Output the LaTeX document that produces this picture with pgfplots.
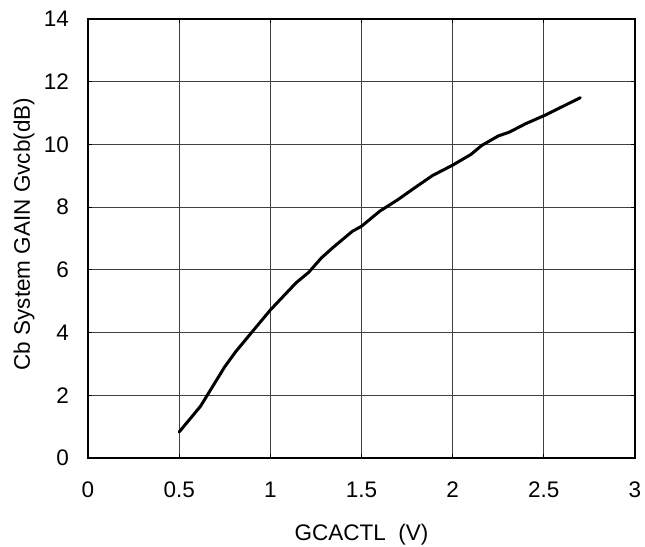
\documentclass[border=0pt]{standalone}
\usepackage{pgfplots}
\pgfplotsset{compat=1.18}
\usepackage{fontspec}
\setmainfont{Liberation Sans}
\newcommand{\chartfont}{\fontsize{22.5bp}{27bp}\selectfont}
\begin{document}
\begin{tikzpicture}[font=\chartfont]
  \path[use as bounding box] (-88bp,-89bp) rectangle (557bp,458bp);
  \begin{axis}[
      scale only axis,
      width=547bp, height=439bp,
      font=\chartfont,
      xmin=0, xmax=3, ymin=0, ymax=14,
      xtick={0,0.5,...,3}, ytick={0,2,...,14},
      /pgf/number format/assume math mode=true,
      tick label style={font=\chartfont},
      xticklabel style={inner sep=0pt, yshift=-24bp},
      yticklabel style={inner sep=0pt, xshift=-19bp},
      tick align=inside,
      major tick length=4bp,
      tick style={black, line width=0.8bp},
      grid=major,
      major grid style={black!75, line width=0.8bp},
      axis line style={black, line width=1.4bp},
      xlabel={GCACTL\ \ (V)},
      ylabel={Cb System GAIN Gvcb(dB)},
      every axis x label/.style={at={(axis description cs:0.5,-0.175)}, anchor=center, font=\chartfont},
      every axis y label/.style={at={(axis description cs:-0.117,0.51)}, rotate=90, anchor=center, font=\chartfont},
    ]
    \addplot[black, line width=3bp, line join=round, line cap=round] coordinates {
      (0.50,0.83) (0.617,1.65) (0.75,2.91) (0.81,3.39) (0.894,3.98)
      (1.00,4.72) (1.075,5.18) (1.14,5.58) (1.21,5.92) (1.28,6.38)
      (1.345,6.72) (1.45,7.23) (1.50,7.39) (1.60,7.87) (1.70,8.24)
      (1.79,8.61) (1.89,9.01) (2.00,9.34) (2.10,9.68) (2.16,9.97)
      (2.25,10.27) (2.31,10.39) (2.40,10.66) (2.51,10.94) (2.61,11.23)
      (2.70,11.49)
    };
  \end{axis}
\end{tikzpicture}
\end{document}
